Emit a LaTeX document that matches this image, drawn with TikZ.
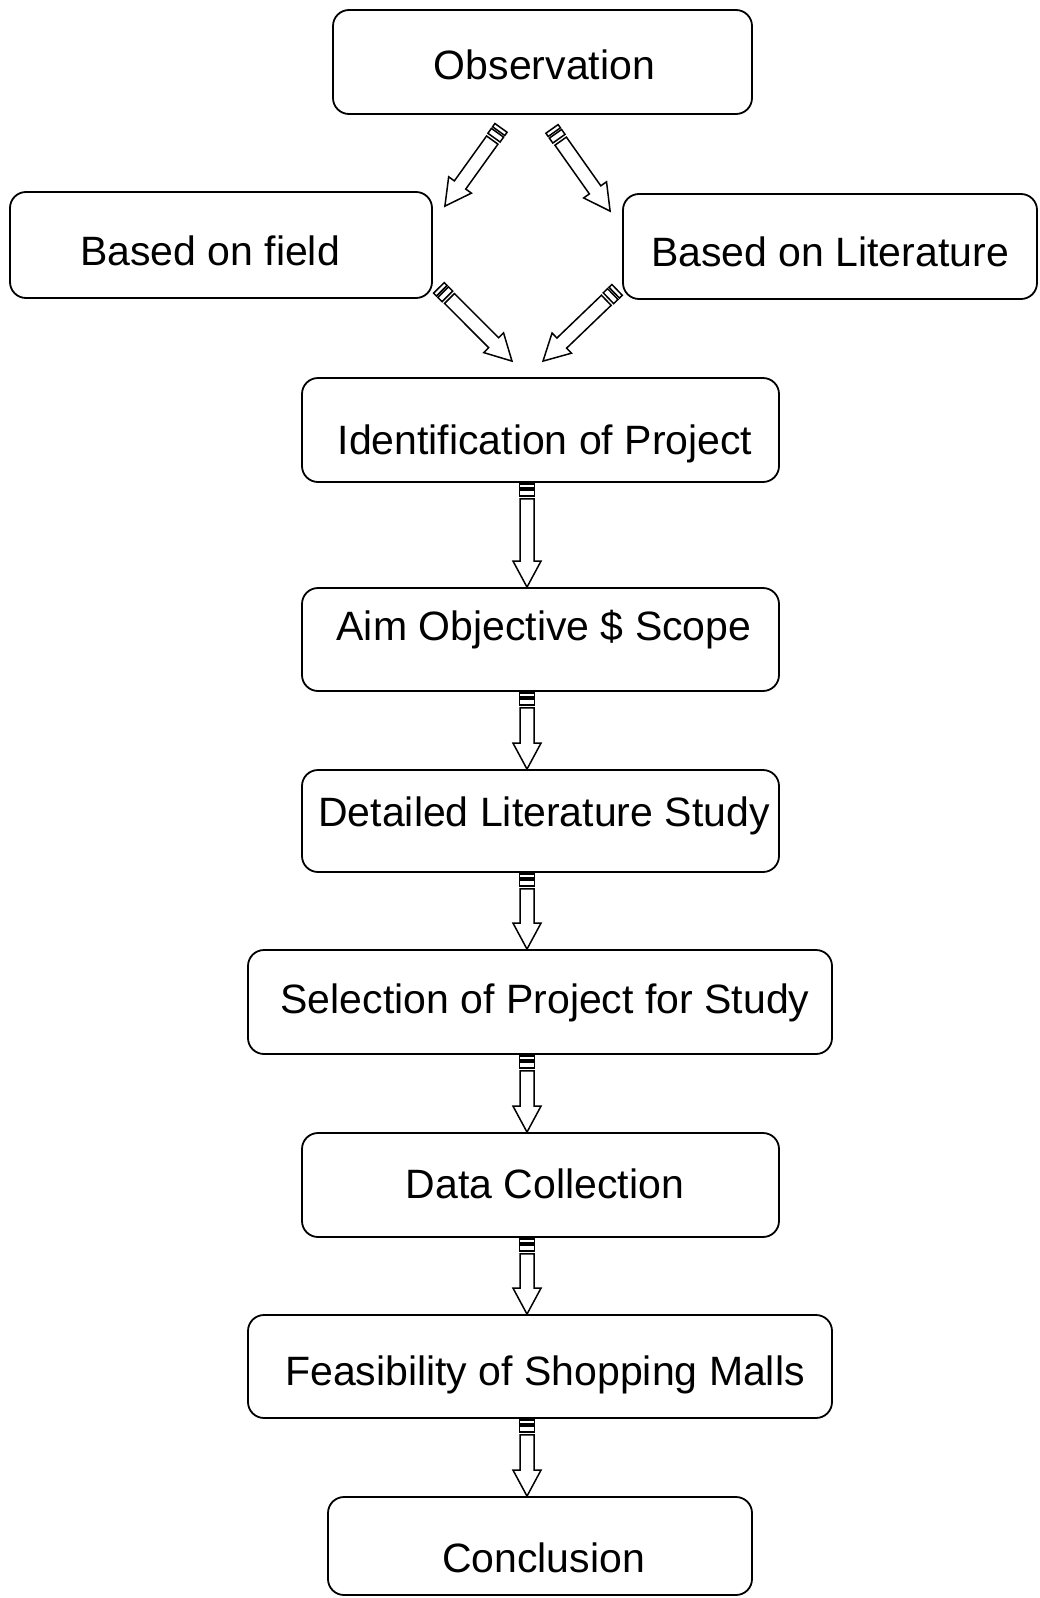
\documentclass[tikz,border=0pt]{standalone}
\usepackage{fontspec}
\setmainfont{Liberation Sans}
\usetikzlibrary{calc}
\tikzset{
  box/.style={draw, line width=1.8pt, rounded corners=16pt, inner sep=0pt,
    font=\fontsize{41}{49}\selectfont, align=center, text depth=0pt},
  bl/.style={text height=#1},
  arr/.style={draw, line width=1.5pt, fill=white, line join=miter},
}
\newcommand\blockarr[2]{%
  \coordinate (bs1) at ($(#1)!4pt!(#2)$);
  \coordinate (bs2) at ($(#1)!6pt!(#2)$);
  \coordinate (bs3) at ($(#1)!12pt!(#2)$);
  \coordinate (bss) at ($(#1)!15pt!(#2)$);
  \coordinate (bhb) at ($(#2)!26pt!(#1)$);
  \draw[arr] ($(#1)!7.5pt!90:(#2)$) -- ($(bs1)!7.5pt!90:(#2)$) -- ($(bs1)!7.5pt!-90:(#2)$) -- ($(#1)!7.5pt!-90:(#2)$) -- cycle;
  \draw[arr] ($(bs2)!7.5pt!90:(#2)$) -- ($(bs3)!7.5pt!90:(#2)$) -- ($(bs3)!7.5pt!-90:(#2)$) -- ($(bs2)!7.5pt!-90:(#2)$) -- cycle;
  \draw[arr] ($(bss)!7pt!90:(#2)$) -- ($(bhb)!7pt!90:(#2)$) -- ($(bhb)!14pt!90:(#2)$) -- (#2) -- ($(bhb)!14pt!-90:(#2)$) -- ($(bhb)!7pt!-90:(#2)$) -- ($(bss)!7pt!-90:(#2)$) -- cycle;
}
\begin{document}
\begin{tikzpicture}[x=1pt,y=-1pt]
\useasboundingbox (0,0) rectangle (1039,1598);
\node[box, bl=34pt, minimum width=419pt, minimum height=104pt] (obs) at (542.5,62) {\hspace*{4pt}Observation};
\node[box, bl=40pt, minimum width=422pt, minimum height=106pt] (field) at (221,245) {Based on field\hspace*{22pt}};
\node[box, bl=40pt, minimum width=414pt, minimum height=105pt] (lit) at (830,246.5) {Based on Literature};
\node[box, bl=48pt, minimum width=477pt, minimum height=104pt] (ident) at (540.5,430) {\hspace*{9pt}Identification of Project};
\node[box, bl=2pt, minimum width=477pt, minimum height=103pt] (aim) at (540.5,639.5) {\hspace*{7pt}Aim Objective \$ Scope};
\node[box, bl=10pt, minimum width=477pt, minimum height=102pt] (det) at (540.5,821) {\hspace*{7pt}Detailed Literature Study};
\node[box, bl=22pt, minimum width=584pt, minimum height=104pt] (sel) at (540,1002) {\hspace*{10pt}Selection of Project for Study};
\node[box, bl=26pt, minimum width=477pt, minimum height=104pt] (data) at (540.5,1185) {\hspace*{9pt}Data Collection};
\node[box, bl=37pt, minimum width=584pt, minimum height=103pt] (feas) at (540,1366.5) {\hspace*{10pt}Feasibility of Shopping Malls};
\node[box, bl=52pt, minimum width=424pt, minimum height=98pt] (concl) at (540,1546) {\hspace*{7pt}Conclusion};
% diagonal arrows
\coordinate (at) at ($(obs.south)+(-41.5,13)$);
\coordinate (ah) at ($(field.north east)+(12,15)$);
\coordinate (bt) at ($(obs.south)+(9.5,14)$);
\coordinate (bh) at ($(lit.north west)+(-12,18)$);
\coordinate (ct) at ($(field.south east)+(6,-11)$);
\coordinate (ch) at ($(ident.north)+(-28.5,-16)$);
\coordinate (dt) at ($(lit.south west)+(-5,-10)$);
\coordinate (dh) at ($(ident.north)+(2.5,-16)$);
\blockarr{at}{ah}
\blockarr{bt}{bh}
\blockarr{ct}{ch}
\blockarr{dt}{dh}
% vertical arrows
\coordinate (v1t) at ($(ident.south)+(-13.5,1)$);
\coordinate (v1h) at ($(aim.north)+(-13.5,0)$);
\coordinate (v2t) at ($(aim.south)+(-13.5,1)$);
\coordinate (v2h) at ($(det.north)+(-13.5,0)$);
\coordinate (v3t) at ($(det.south)+(-13.5,1)$);
\coordinate (v3h) at ($(sel.north)+(-13,0)$);
\coordinate (v4t) at ($(sel.south)+(-13,1)$);
\coordinate (v4h) at ($(data.north)+(-13.5,0)$);
\coordinate (v5t) at ($(data.south)+(-13.5,1)$);
\coordinate (v5h) at ($(feas.north)+(-13,0)$);
\coordinate (v6t) at ($(feas.south)+(-13,1)$);
\coordinate (v6h) at ($(concl.north)+(-13,0)$);
\blockarr{v1t}{v1h}
\blockarr{v2t}{v2h}
\blockarr{v3t}{v3h}
\blockarr{v4t}{v4h}
\blockarr{v5t}{v5h}
\blockarr{v6t}{v6h}
\end{tikzpicture}
\end{document}
